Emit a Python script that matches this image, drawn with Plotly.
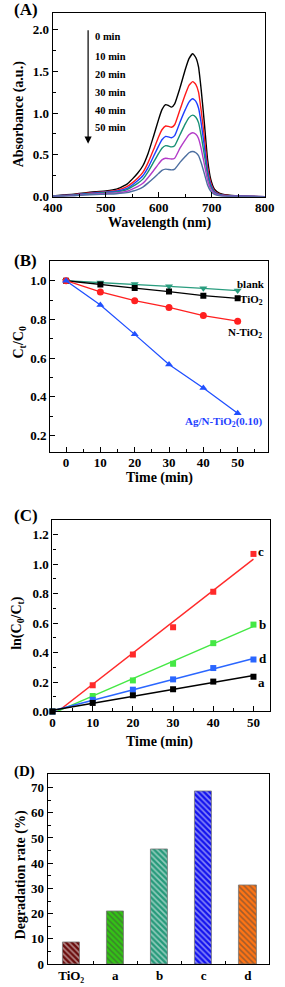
import plotly.graph_objects as go
import numpy as np

W, H = 285, 987
FONT = "Liberation Serif"

# ---------------- Panel A data: UV-vis spectra ----------------
wavelength = [400, 420, 440, 460, 480, 500, 520, 540, 550, 560, 570, 580, 590, 600, 606, 613, 618, 624,
              630, 640, 650, 657, 664, 670, 675, 680, 686, 692, 698, 705, 715, 730, 750, 800]
abs_0min = [0.01, 0.02, 0.03, 0.045, 0.06, 0.07, 0.09, 0.15, 0.21, 0.28, 0.37, 0.52, 0.72, 0.93, 1.04, 1.10, 1.09, 1.07,
            1.11, 1.30, 1.52, 1.65, 1.71, 1.66, 1.55, 1.28, 0.88, 0.45, 0.21, 0.09, 0.04, 0.02, 0.01, 0.0]
abs_10min = [0.01, 0.015, 0.025, 0.04, 0.05, 0.06, 0.075, 0.12, 0.165, 0.22, 0.29, 0.41, 0.56, 0.72, 0.80, 0.845, 0.84, 0.83,
             0.86, 1.04, 1.22, 1.33, 1.375, 1.34, 1.25, 1.03, 0.71, 0.36, 0.17, 0.07, 0.03, 0.015, 0.01, 0.0]
abs_20min = [0.01, 0.015, 0.02, 0.035, 0.045, 0.055, 0.065, 0.10, 0.14, 0.19, 0.25, 0.35, 0.48, 0.61, 0.68, 0.72, 0.715, 0.705,
             0.73, 0.89, 1.04, 1.13, 1.17, 1.14, 1.06, 0.88, 0.60, 0.31, 0.145, 0.06, 0.025, 0.012, 0.008, 0.0]
abs_30min = [0.008, 0.012, 0.018, 0.03, 0.04, 0.05, 0.058, 0.085, 0.12, 0.16, 0.21, 0.30, 0.41, 0.52, 0.58, 0.61, 0.605, 0.595,
             0.61, 0.74, 0.87, 0.945, 0.975, 0.95, 0.885, 0.73, 0.50, 0.26, 0.12, 0.05, 0.02, 0.01, 0.006, 0.0]
abs_40min = [0.006, 0.01, 0.015, 0.025, 0.032, 0.04, 0.045, 0.065, 0.09, 0.12, 0.16, 0.23, 0.31, 0.395, 0.44, 0.46, 0.455, 0.45,
             0.46, 0.58, 0.68, 0.74, 0.765, 0.745, 0.695, 0.575, 0.39, 0.20, 0.095, 0.04, 0.015, 0.008, 0.005, 0.0]
abs_50min = [0.005, 0.008, 0.012, 0.02, 0.026, 0.03, 0.035, 0.048, 0.065, 0.085, 0.115, 0.165, 0.22, 0.28, 0.315, 0.33, 0.325, 0.32,
             0.33, 0.41, 0.48, 0.525, 0.54, 0.525, 0.49, 0.405, 0.275, 0.14, 0.065, 0.028, 0.01, 0.005, 0.003, 0.0]
spectra_labels = ["0 min", "10 min", "20 min", "30 min", "40 min", "50 min"]

# ---------------- Panel B data: Ct/C0 vs time ----------------
time_b = [0, 10, 20, 30, 40, 50]
ct_blank = [1.0, 0.991, 0.983, 0.971, 0.961, 0.949]
ct_tio2 = [1.0, 0.980, 0.962, 0.944, 0.923, 0.909]
ct_ntio2 = [1.0, 0.942, 0.897, 0.862, 0.820, 0.791]
ct_agn = [1.0, 0.875, 0.723, 0.567, 0.446, 0.316]

# ---------------- Panel C data: ln(C0/Ct) vs time ----------------
time_c = [0, 10, 20, 30, 40, 50]
ln_a = [0.0, 0.058, 0.110, 0.151, 0.203, 0.236]
ln_b = [0.0, 0.105, 0.211, 0.324, 0.464, 0.590]
ln_c = [0.0, 0.178, 0.387, 0.572, 0.813, 1.070]
ln_d = [0.0, 0.079, 0.148, 0.218, 0.295, 0.353]

# ---------------- Panel D data: degradation rate ----------------
samples = ["TiO₂", "a", "b", "c", "d"]
degradation = [8.5, 20.9, 45.5, 68.6, 31.1]

# ---------------- styles ----------------
spec_colors = ["#000000", "#ff1a1a", "#1f3fff", "#178f74", "#b33cc8", "#4d6fa0"]
bar_colors = ["#6a0c0c", "#33c414", "#26997a", "#1212ee", "#ff7414"]
bar_fg = ["#2a0000", "#0c5a00", "#084a3a", "#00005a", "#7a2a00"]


def px(x):
    return x / W


def py(y):
    return 1 - y / H


fig = go.Figure()

# Panel A
for yv, lab, col in zip([abs_0min, abs_10min, abs_20min, abs_30min, abs_40min, abs_50min],
                        spectra_labels, spec_colors):
    fig.add_trace(go.Scatter(x=wavelength, y=yv, mode="lines", name=lab,
                             line=dict(color=col, width=1.4, shape="spline", smoothing=0.45),
                             xaxis="x", yaxis="y", showlegend=False))

# Panel B
b_series = [(ct_blank, "#2a9d7f", "triangle-down", 7),
            (ct_tio2, "#000000", "square", 6),
            (ct_ntio2, "#ff2020", "circle", 7),
            (ct_agn, "#2050ff", "triangle-up", 7)]
for yv, col, sym, sz in b_series:
    fig.add_trace(go.Scatter(x=time_b, y=yv, mode="lines+markers",
                             line=dict(color=col, width=1.3),
                             marker=dict(color=col, symbol=sym, size=sz),
                             xaxis="x2", yaxis="y2", showlegend=False))

# Panel C
c_series = [(ln_c, "#ff2a2a"), (ln_b, "#44e844"), (ln_d, "#2a66ff"), (ln_a, "#000000")]
for yv, col in c_series:
    k, b0 = np.polyfit(time_c, yv, 1)
    xf = np.array([time_c[0], time_c[-1]], dtype=float)
    fig.add_trace(go.Scatter(x=xf, y=k * xf + b0, mode="lines",
                             line=dict(color=col, width=1.4),
                             xaxis="x3", yaxis="y3", showlegend=False))
    fig.add_trace(go.Scatter(x=time_c, y=yv, mode="markers",
                             marker=dict(color=col, symbol="square", size=6),
                             cliponaxis=False,
                             xaxis="x3", yaxis="y3", showlegend=False))

# Panel D
fig.add_trace(go.Bar(x=list(range(len(samples))), y=degradation, width=0.39,
                     marker=dict(color=bar_colors,
                                 line=dict(color="#777777", width=0.8),
                                 pattern=dict(shape="\\", fgcolor=bar_fg, bgcolor=bar_colors,
                                              size=4, solidity=0.4, fillmode="overlay")),
                     xaxis="x4", yaxis="y4", showlegend=False))

tickfont = dict(family="Liberation Serif, Times New Roman, serif", size=13, color="black", weight="bold")


def axis(domain, anchor, rng, dtick=None, minor_dtick=None, tick0=0, fmt=None, **kw):
    d = dict(domain=domain, anchor=anchor, range=rng, showgrid=False, zeroline=False,
             showline=True, linecolor="black", linewidth=1.3, mirror=True,
             ticks="inside", ticklen=5, tickwidth=1.2, tickcolor="black",
             tickfont=tickfont)
    if dtick is not None:
        d.update(dtick=dtick, tick0=tick0, tickmode="linear")
    if minor_dtick is not None:
        d["minor"] = dict(dtick=minor_dtick, tick0=tick0, ticks="inside", ticklen=3,
                          tickwidth=1, tickcolor="black", showgrid=False)
    if fmt:
        d["tickformat"] = fmt
    d.update(kw)
    return d


XSTAND = -1
layout = dict(
    width=W, height=H, autosize=False,
    margin=dict(l=0, r=0, t=0, b=0),
    paper_bgcolor="white", plot_bgcolor="white",
    showlegend=False,
    bargap=0,
    xaxis=axis([px(46), px(274)], "y", [400, 800], 100, 50, ticklabelstandoff=XSTAND),
    yaxis=axis([py(198.3), py(12.7)], "x", [0, 2.2], 0.5, 0.25, fmt=".1f"),
    xaxis2=axis([px(43.3), px(277.7)], "y2", [-4.6, 58.9], 10, 5, ticklabelstandoff=-2),
    yaxis2=axis([py(456), py(263.5)], "x2", [0.114, 1.10], 0.2, 0.1, fmt=".1f"),
    xaxis3=axis([px(45.7), px(280)], "y3", [0, 54.2], 10, 5, ticklabelstandoff=XSTAND),
    yaxis3=axis([py(717.3), py(524.3)], "x3", [0, 1.30], 0.2, 0.1, fmt=".1f"),
    xaxis4=axis([px(40.7), px(278.5)], "y4", [-0.53, 4.48],
                tickmode="array", tickvals=list(range(len(samples))), ticktext=samples,
                ticklen=0, ticklabelstandoff=XSTAND,
                minor=dict(tickmode="array", tickvals=[0.5, 1.5, 2.5, 3.5], ticks="inside",
                           ticklen=3, tickwidth=1, tickcolor="black")),
    yaxis4=axis([py(972), py(780.7)], "x4", [0, 75.2], 10, 5),
)

anns = []


def ann(text, x, y, size, xanchor="center", yanchor="middle", color="black", angle=0):
    anns.append(dict(text="<b>" + text + "</b>", x=px(x), y=py(y), xref="paper", yref="paper",
                     xanchor=xanchor, yanchor=yanchor, showarrow=False, textangle=angle,
                     font=dict(family=FONT, size=size, color=color)))


# Panel labels
ann("(A)", 2, 10, 17, xanchor="left")
ann("(B)", 2, 262.5, 17, xanchor="left")
ann("(C)", 2, 520, 17, xanchor="left")
ann("(D)", 2, 778, 15, xanchor="left")

# Axis titles
ann("Wavelength (nm)", 160.3, 225, 14)
ann("Absorbance (a.u.)", 10, 115, 14, angle=-90)
ann("Time (min)", 160.5, 482, 14)
ann("C<sub>t</sub>/C<sub>0</sub>", 10, 345, 14, angle=-90)
ann("Time (min)", 160.8, 748.3, 14)
ann("ln(C<sub>0</sub>/C<sub>t</sub>)", 8.5, 628, 14, angle=-90)
ann("Degradation rate (%)", 11.7, 881.7, 14, angle=-90)

# Panel A legend texts
for lab, yy in zip(spectra_labels, [36.7, 56.7, 75, 93.3, 111, 129]):
    ann(lab, 89, yy, 10.5, xanchor="left")

# Panel A arrow
anns.append(dict(x=px(84), y=py(145), xref="paper", yref="paper", text="", showarrow=True,
                 ax=0, ay=-115, axref="pixel", ayref="pixel",
                 arrowhead=2, arrowsize=1.2, arrowwidth=1.2, arrowcolor="black"))

# Panel B labels
ann("blank", 276, 286.7, 11, xanchor="right")
ann("TiO<sub>2</sub>", 274, 302.3, 11, xanchor="right")
ann("N-TiO<sub>2</sub>", 273.5, 335.3, 11, xanchor="right")
ann("Ag/N-TiO<sub>2</sub>(0.10)", 274, 425.7, 11, xanchor="right", color="#1f3fff")

# Panel C labels
ann("c", 270, 556, 13)
ann("b", 272, 629.3, 13)
ann("d", 272, 664.3, 13)
ann("a", 271, 687.7, 13)

layout["annotations"] = anns
fig.update_layout(**layout)

fig.write_html("out.html",
               config={"displayModeBar": False},
               post_script="document.body.style.margin='0';document.body.style.overflow='hidden';")
